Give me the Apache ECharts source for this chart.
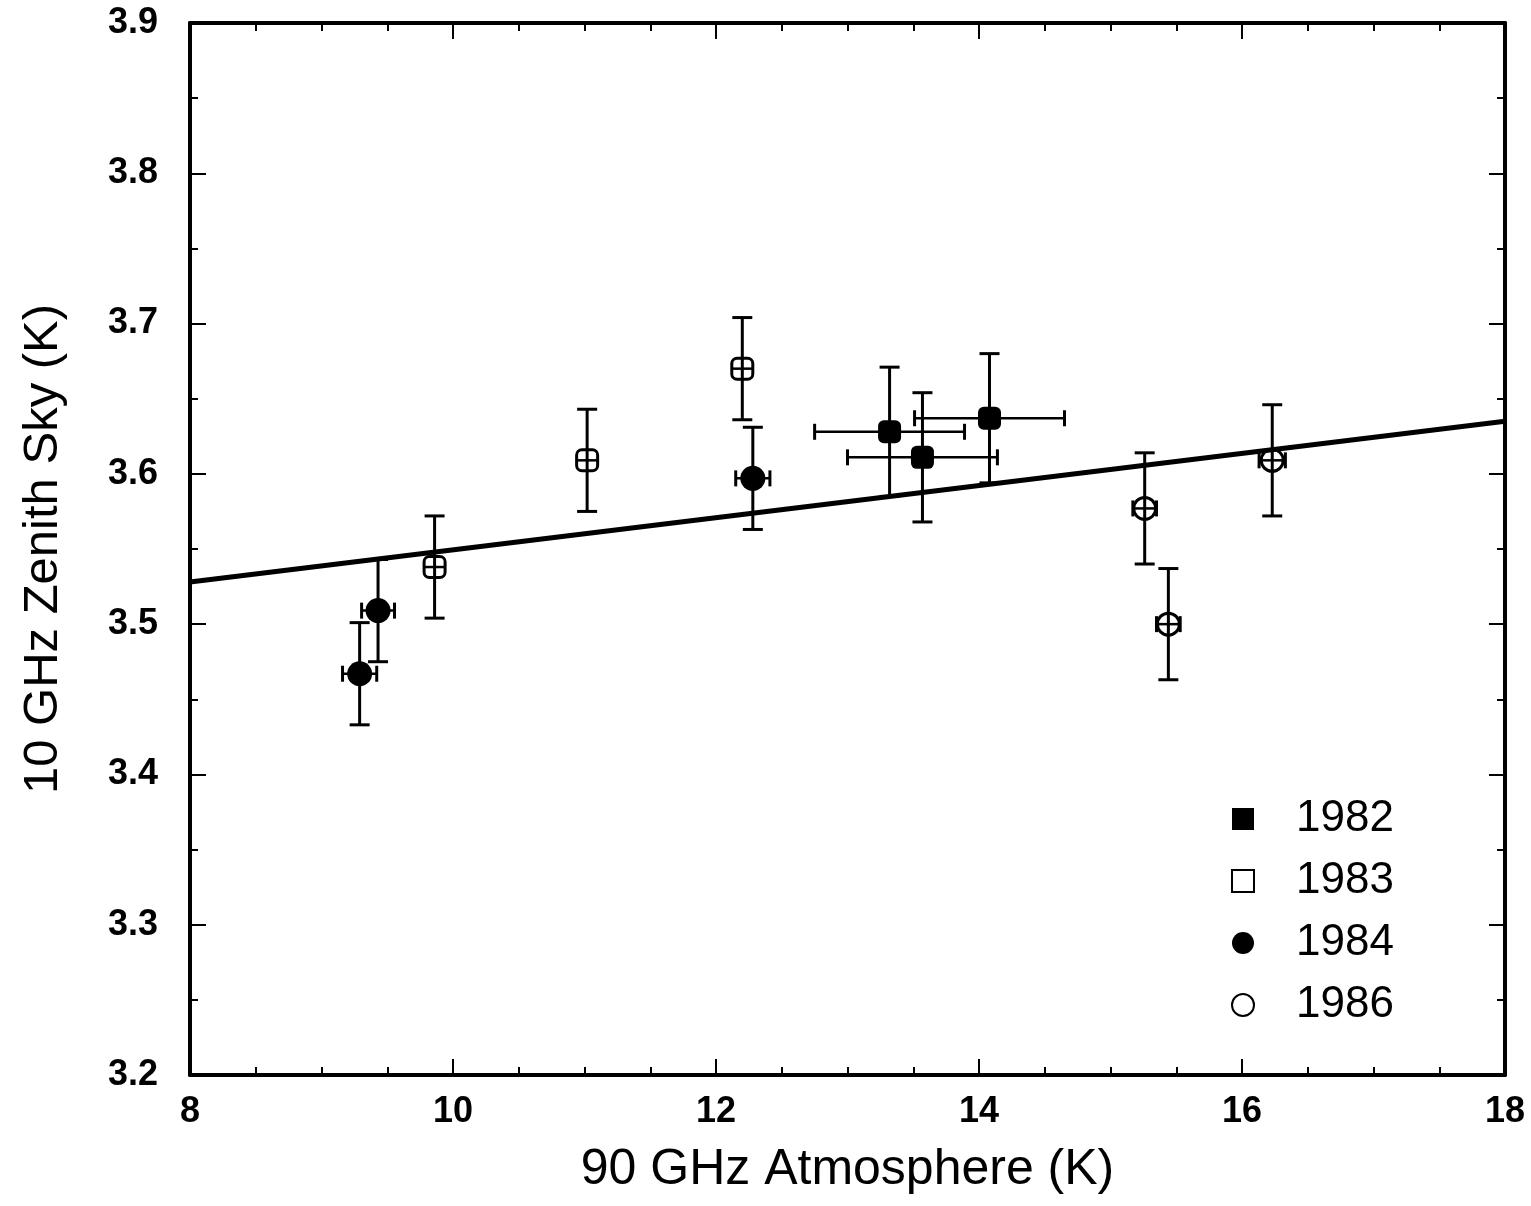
<!DOCTYPE html>
<html lang="en" style="height: 100%">
<head>
    <meta charset="UTF-8">
    <title>10 GHz Zenith Sky vs 90 GHz Atmosphere</title>
    <script src="https://cdn.jsdelivr.net/npm/echarts@6/dist/echarts.min.js"></script>
</head>
<body style="height: 100%; margin: 0; background: #fff">
    <div id="main" style="width: 1531px; height: 1206px"></div>
    <script>
        // data: x, y, x error, y error
        var years = ['1982', '1983', '1984', '1986'];
        var x1982 = [13.32, 13.57, 14.08];
        var y1982 = [3.628, 3.611, 3.637];
        var dx1982 = [0.57, 0.57, 0.57];
        var dy1982 = [0.043, 0.043, 0.043];

        var x1983 = [9.86, 11.02, 12.2];
        var y1983 = [3.538, 3.609, 3.670];
        var dx1983 = [0.08, 0.08, 0.08];
        var dy1983 = [0.034, 0.034, 0.034];

        var x1984 = [9.29, 9.43, 12.28];
        var y1984 = [3.467, 3.509, 3.597];
        var dx1984 = [0.13, 0.125, 0.13];
        var dy1984 = [0.034, 0.034, 0.034];

        var x1986 = [15.26, 15.44, 16.23];
        var y1986 = [3.577, 3.500, 3.609];
        var dx1986 = [0.09, 0.09, 0.10];
        var dy1986 = [0.037, 0.037, 0.037];

        var fitX = [8, 18];
        var fitY = [3.528, 3.635];

        function pts(xs, ys) {
            return xs.map(function (x, i) { return [x, ys[i]]; });
        }
        function errs(xs, ys, dxs, dys, caps) {
            return xs.map(function (x, i) { return [x, ys[i], dxs[i], dys[i], caps]; });
        }

        var FONT = '"Liberation Sans", Arial, sans-serif';

        function errRender(params, api) {
            var x = api.value(0), y = api.value(1);
            var dx = api.value(2), dy = api.value(3), caps = api.value(4);
            var hi = api.coord([x, y + dy]);
            var lo = api.coord([x, y - dy]);
            var l = api.coord([x - dx, y]);
            var r = api.coord([x + dx, y]);
            var st = { stroke: '#000', lineWidth: 3 };
            var cw = 10;
            var ch = 8;
            var kids = [
                { type: 'line', shape: { x1: hi[0], y1: hi[1], x2: lo[0], y2: lo[1] }, style: st },
                { type: 'line', shape: { x1: hi[0] - cw, y1: hi[1], x2: hi[0] + cw, y2: hi[1] }, style: st },
                { type: 'line', shape: { x1: lo[0] - cw, y1: lo[1], x2: lo[0] + cw, y2: lo[1] }, style: st },
                { type: 'line', shape: { x1: l[0], y1: l[1], x2: r[0], y2: r[1] }, style: { stroke: '#000', lineWidth: 2.5 } }
            ];
            if (caps) {
                kids.push({ type: 'line', shape: { x1: l[0], y1: l[1] - ch, x2: l[0], y2: l[1] + ch }, style: st });
                kids.push({ type: 'line', shape: { x1: r[0], y1: r[1] - ch, x2: r[0], y2: r[1] + ch }, style: st });
            }
            return { type: 'group', children: kids };
        }

        var axisCommon = {
            type: 'value',
            axisLine: { show: true, lineStyle: { color: '#000', width: 4 } },
            axisTick: { show: true, inside: true, length: 16, lineStyle: { color: '#000', width: 2 } },
            minorTick: { show: true, length: 8, lineStyle: { color: '#000', width: 2 } },
            splitLine: { show: false }
        };

        var myChart = echarts.init(document.getElementById('main'));

        var option = {
            animation: false,
            backgroundColor: '#fff',
            grid: { left: 190, right: 26, top: 23, bottom: 131 },
            xAxis: [
                Object.assign({}, axisCommon, {
                    min: 8, max: 18, interval: 2,
                    minorTick: Object.assign({}, axisCommon.minorTick, { splitNumber: 4 }),
                    axisLabel: { color: '#000', fontSize: 36, fontFamily: FONT, fontWeight: 'bold', margin: 19 },
                    name: '90 GHz Atmosphere (K)',
                    nameLocation: 'middle',
                    nameGap: 70,
                    nameTextStyle: { color: '#000', fontSize: 50, fontFamily: FONT }
                }),
                Object.assign({}, axisCommon, {
                    position: 'top',
                    min: 8, max: 18, interval: 2,
                    minorTick: Object.assign({}, axisCommon.minorTick, { splitNumber: 4 }),
                    axisLabel: { show: false }
                })
            ],
            yAxis: [
                Object.assign({}, axisCommon, {
                    min: 3.2, max: 3.9, interval: 0.1,
                    minorTick: Object.assign({}, axisCommon.minorTick, { splitNumber: 2 }),
                    axisLabel: {
                        color: '#000', fontSize: 36, fontFamily: FONT, fontWeight: 'bold', margin: 32,
                        formatter: function (v) { return v.toFixed(1); }
                    },
                    name: '10 GHz Zenith Sky (K)',
                    nameLocation: 'middle',
                    nameGap: 122,
                    nameTextStyle: { color: '#000', fontSize: 49, fontFamily: FONT }
                }),
                Object.assign({}, axisCommon, {
                    position: 'right',
                    min: 3.2, max: 3.9, interval: 0.1,
                    minorTick: Object.assign({}, axisCommon.minorTick, { splitNumber: 2 }),
                    axisLabel: { show: false }
                })
            ],
            legend: {
                orient: 'vertical',
                left: 1226,
                top: 792,
                itemWidth: 22,
                itemHeight: 22,
                itemGap: 18,
                textStyle: { color: '#000', fontSize: 44, fontFamily: FONT, padding: [0, 0, 0, 37] },
                data: [
                    { name: years[0], icon: 'rect', itemStyle: { color: '#000', borderWidth: 0, opacity: 1 } },
                    { name: years[1], icon: 'rect', itemStyle: { color: '#fff', borderColor: '#000', borderWidth: 2, opacity: 1 } },
                    { name: years[2], icon: 'circle', itemStyle: { color: '#000', borderWidth: 0, opacity: 1 } },
                    { name: years[3], icon: 'circle', itemStyle: { color: '#fff', borderColor: '#000', borderWidth: 2, opacity: 1 } }
                ]
            },
            series: [
                {
                    name: 'fit', type: 'line', data: pts(fitX, fitY), symbol: 'none',
                    lineStyle: { color: '#000', width: 5 }, z: 1
                },
                { name: 'e1982', type: 'custom', renderItem: errRender, data: errs(x1982, y1982, dx1982, dy1982, 1), z: 2 },
                { name: 'e1983', type: 'custom', renderItem: errRender, data: errs(x1983, y1983, dx1983, dy1983, 0), z: 4 },
                { name: 'e1984', type: 'custom', renderItem: errRender, data: errs(x1984, y1984, dx1984, dy1984, 1), z: 2 },
                { name: 'e1986', type: 'custom', renderItem: errRender, data: errs(x1986, y1986, dx1986, dy1986, 1), z: 4 },
                {
                    name: years[0], type: 'scatter', data: pts(x1982, y1982), symbol: 'roundRect', symbolSize: 23,
                    itemStyle: { color: '#000', opacity: 1 }, z: 3
                },
                {
                    name: years[1], type: 'scatter', data: pts(x1983, y1983), symbol: 'roundRect', symbolSize: 21,
                    itemStyle: { color: 'rgba(255,255,255,0)', borderColor: '#000', borderWidth: 3, opacity: 1 }, z: 3
                },
                {
                    name: years[2], type: 'scatter', data: pts(x1984, y1984), symbol: 'circle', symbolSize: 25,
                    itemStyle: { color: '#000', opacity: 1 }, z: 3
                },
                {
                    name: years[3], type: 'scatter', data: pts(x1986, y1986), symbol: 'circle', symbolSize: 22,
                    itemStyle: { color: 'rgba(255,255,255,0)', borderColor: '#000', borderWidth: 3, opacity: 1 }, z: 3
                }
            ]
        };

        myChart.setOption(option);
    </script>
</body>
</html>
